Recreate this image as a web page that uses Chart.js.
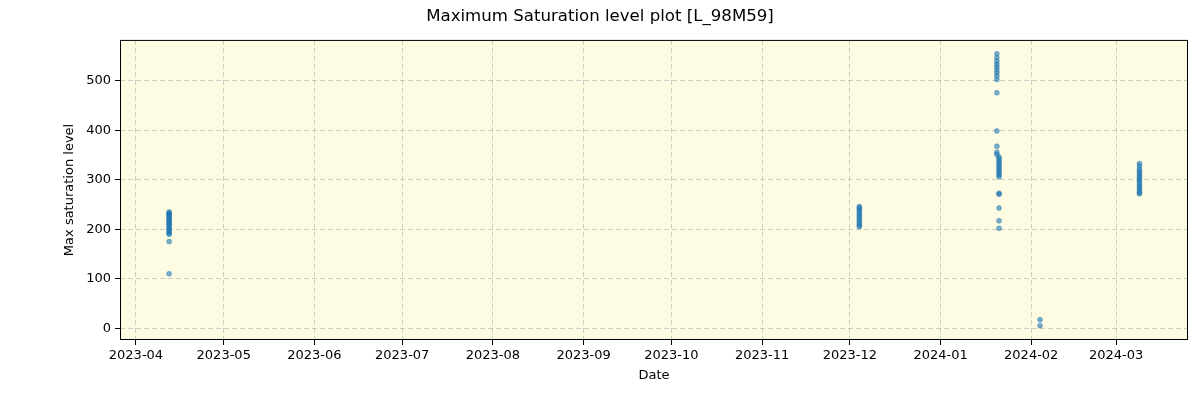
<!DOCTYPE html>
<html>
<head>
<meta charset="utf-8">
<script src="https://cdn.jsdelivr.net/npm/chart.js@4.4.1/dist/chart.umd.min.js"></script>
<style>
  html, body { margin: 0; padding: 0; background: #fff; }
  #wrap { width: 1200px; height: 400px; }
</style>
</head>
<body>
<div id="wrap"><canvas id="sat"></canvas></div>
<script>
const apr_dates = ["2023-04-12T08:00"];
const apr_values = [235, 233, 231, 229, 227, 225, 222, 220, 218, 215, 212, 210, 207, 204, 201, 198, 195, 192, 190, 175, 110];

const dec_dates = ["2023-12-04T06:00"];
const dec_values = [246, 243, 240, 236, 232, 228, 224, 220, 216, 212, 208, 205];

const jan_a_dates = ["2024-01-20T06:00"];
const jan_a_values = [555, 547, 540, 534, 528, 522, 516, 510, 503, 476, 399, 368, 356, 351];
const jan_b_dates = ["2024-01-21"];
const jan_b_values = [346, 342, 338, 334, 330, 326, 322, 318, 314, 310, 306, 273, 271, 243, 217, 202];

const feb_dates = ["2024-02-04"];
const feb_values = [17, 5];

const mar_dates = ["2024-03-09"];
const mar_values = [333, 328, 322, 318, 314, 310, 306, 302, 298, 294, 290, 286, 282, 278, 274, 272];

const month_ticks = ["2023-04", "2023-05", "2023-06", "2023-07", "2023-08", "2023-09", "2023-10",
                     "2023-11", "2023-12", "2024-01", "2024-02", "2024-03"];
const y_ticks = [0, 100, 200, 300, 400, 500];

const x_min = "2023-03-26T13:00";
const x_max = "2024-03-25T14:00";
const y_min = -24;
const y_max = 583;

function toMs(s) {
    if (s.length === 7) s = s + "-01";
    if (s.length === 10) s = s + "T00:00";
    return Date.parse(s + ":00Z");
}

function monthLabel(ms) {
    const d = new Date(ms);
    return d.getUTCFullYear() + "-" + String(d.getUTCMonth() + 1).padStart(2, "0");
}

let points = [];
const groups = [
    [apr_dates, apr_values], [dec_dates, dec_values],
    [jan_a_dates, jan_a_values], [jan_b_dates, jan_b_values],
    [feb_dates, feb_values], [mar_dates, mar_values]
];
for (let g = 0; g < groups.length; g ++) {
    const t = toMs(groups[g][0][0]);
    for (let i = 0; i < groups[g][1].length; i ++) {
        points.push({x: t, y: groups[g][1][i]});
    }
}

const font_family = "'DejaVu Sans', sans-serif";
const grid_colour = "rgba(176,176,176,0.6)";

// light yellow plot background and black frame round the axes
const framePlugin = {
    id: "frame",
    beforeDraw(chart) {
        const a = chart.chartArea;
        const ctx = chart.ctx;
        ctx.save();
        ctx.fillStyle = "#fdfbe2";
        ctx.fillRect(a.left, a.top, a.right - a.left, a.bottom - a.top);
        ctx.restore();
    },
    afterDraw(chart) {
        const a = chart.chartArea;
        const ctx = chart.ctx;
        ctx.save();
        ctx.strokeStyle = "#000";
        ctx.lineWidth = 1;
        ctx.strokeRect(a.left + 0.5, a.top + 0.5, a.right - a.left - 1, a.bottom - a.top - 1);
        ctx.restore();
    }
};

const config = {
    type: "scatter",
    data: {
        datasets: [{
            data: points,
            backgroundColor: "rgba(31,119,180,0.6)",
            borderColor: "rgba(31,119,180,0.6)",
            borderWidth: 0.6,
            pointRadius: 2.5
        }]
    },
    options: {
        responsive: true,
        maintainAspectRatio: false,
        animation: false,
        layout: { padding: { left: 12, right: 12, top: 0, bottom: 0 } },   // symmetric so the title sits at the centre
        plugins: {
            legend: { display: false },
            tooltip: { enabled: false },
            title: {
                display: true,
                text: "Maximum Saturation level plot [L_98M59]",
                color: "#000",
                font: { family: font_family, size: 16.6, weight: "normal" },
                padding: { top: 7, bottom: 13 }
            }
        },
        scales: {
            x: {
                type: "linear",
                min: toMs(x_min),
                max: toMs(x_max),
                afterBuildTicks: (scale) => {
                    scale.ticks = month_ticks.map(m => ({ value: toMs(m) }));
                },
                afterFit: (scale) => { scale.height = 60; },
                ticks: {
                    color: "#000",
                    maxRotation: 0,
                    autoSkip: false,
                    padding: 3,
                    font: { family: font_family, size: 13 },
                    callback: (v) => monthLabel(v)
                },
                grid: {
                    color: grid_colour,
                    tickBorderDash: [],
                    tickColor: "#000",
                    tickLength: 5
                },
                border: { display: false, dash: [5, 3] },
                title: {
                    display: true,
                    text: "Date",
                    color: "#000",
                    font: { family: font_family, size: 13 },
                    padding: { top: 17, bottom: 17 }
                }
            },
            y: {
                min: y_min,
                max: y_max,
                afterBuildTicks: (scale) => {
                    scale.ticks = y_ticks.map(v => ({ value: v }));
                },
                afterFit: (scale) => { scale.width = 108; },
                ticks: {
                    color: "#000",
                    padding: 4,
                    font: { family: font_family, size: 13 }
                },
                grid: {
                    color: grid_colour,
                    tickBorderDash: [],
                    tickColor: "#000",
                    tickLength: 5
                },
                border: { display: false, dash: [5, 3] },
                title: {
                    display: true,
                    text: "Max saturation level",
                    color: "#000",
                    font: { family: font_family, size: 13 },
                    padding: { top: 50, bottom: 50 }
                }
            }
        }
    },
    plugins: [framePlugin]
};

const chart = new Chart(document.getElementById("sat").getContext("2d"), config);
</script>
</body>
</html>
